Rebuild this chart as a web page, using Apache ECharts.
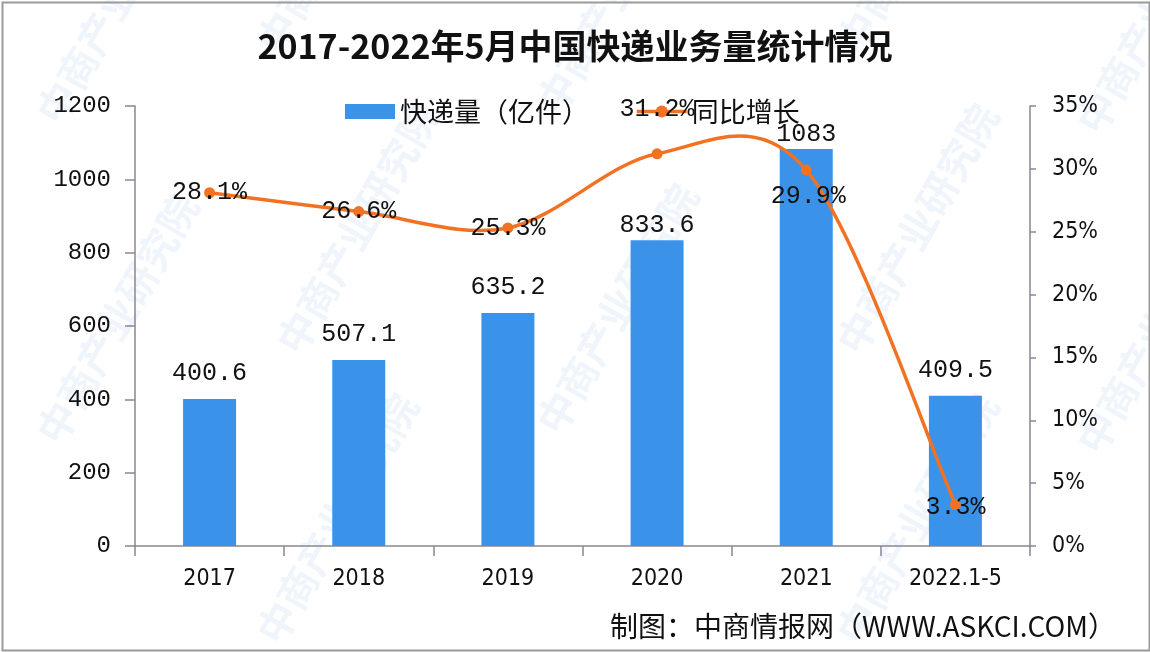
<!DOCTYPE html>
<html><head><meta charset="utf-8">
<script src="https://cdn.jsdelivr.net/npm/echarts@6/dist/echarts.min.js"></script>
<style>html,body{margin:0;padding:0;background:#fff}#c{width:1150px;height:652px}</style>
</head><body><div id="c"></div>
<script>
const categories = ['2017','2018','2019','2020','2021','2022.1-5'];
const volume = [400.6, 507.1, 635.2, 833.6, 1083, 409.5];
const growth = [28.1, 26.6, 25.3, 31.2, 29.9, 3.3];
const leftTicks = [0, 1200, 200];
const rightTicks = [0, 35, 5];

const ORANGE = '#f07222';
const chart = echarts.init(document.getElementById('c'));
const wm = [];
const wmPos = [[30,110],[30,430],[250,40],[270,340],[530,100],[530,420],[830,40],[830,340],[1070,120],[1070,440],[250,630],[830,630]];
wmPos.forEach(p => wm.push({type:'text', x:p[0], y:p[1], rotation:Math.PI/3, silent:true, z:-1,
  style:{text:'中商产业研究院', fill:'rgba(110,165,220,0.11)', font:'bold 40px "Noto Sans CJK SC"'}}));

const lineLabelPos = growth.map((v,i) => {
  if (i === 3) return {position:'top', distance:26};
  if (i === 4) return {position:'inside', offset:[2,26]};
  if (i === 5) return {position:'inside', offset:[0,3]};
  return {position:'inside'};
});
const barLabelDist = volume.map((v,i) => (i === 3 || i === 4) ? 2 : 13);

// Excel-like smoothed curve through the growth points, drawn via axis coords
function renderCurve(params, api) {
  const i = params.dataIndex;
  const n = growth.length;
  if (i >= n - 1) return null;
  const P = k => { const j = Math.max(0, Math.min(n - 1, k)); return api.coord([j, growth[j]]); };
  const p0 = P(i - 1), p1 = P(i), p2 = P(i + 1), p3 = P(i + 2);
  const c1 = [p1[0] + (p2[0] - p0[0]) / 6, p1[1] + (p2[1] - p0[1]) / 6];
  const c2 = [p2[0] - (p3[0] - p1[0]) / 6, p2[1] - (p3[1] - p1[1]) / 6];
  return {type:'bezierCurve', shape:{x1:p1[0], y1:p1[1], cpx1:c1[0], cpy1:c1[1], cpx2:c2[0], cpy2:c2[1], x2:p2[0], y2:p2[1]},
    style:{stroke:ORANGE, lineWidth:3.5, fill:null}};
}

chart.setOption({
  animation:false,
  title:{text:'2017-2022年5月中国快递业务量统计情况', left:'center', top:24,
    textStyle:{fontFamily:'"Noto Sans CJK SC"', fontWeight:'bold', fontSize:34, color:'#111'}},
  legend:{top:93, left:340, itemGap:46, itemWidth:50, itemHeight:15,
    textStyle:{fontFamily:'"Noto Sans CJK SC"', fontSize:27, color:'#111'},
    data:[{name:'快递量（亿件）', icon:'rect'},
          {name:'同比增长', lineStyle:{color:ORANGE, width:3.5, opacity:1}, itemStyle:{color:ORANGE}}]},
  grid:{left:135, right:120, top:106, bottom:106},
  xAxis:{type:'category', data:categories, boundaryGap:true,
    axisLine:{lineStyle:{color:'#8a8694', width:1.5}},
    axisTick:{show:true, length:10, lineStyle:{color:'#8a8694', width:1.5}},
    axisLabel:{color:'#111', fontSize:23, margin:22, fontFamily:'"Liberation Sans Narrow","DejaVu Sans Condensed",sans-serif'}},
  yAxis:[
    {type:'value', min:leftTicks[0], max:leftTicks[1], interval:leftTicks[2],
     axisLine:{show:true, lineStyle:{color:'#8a8694', width:1.5}},
     axisTick:{show:true, length:10, lineStyle:{color:'#8a8694', width:1.5}},
     splitLine:{show:false},
     axisLabel:{color:'#111', fontSize:24, margin:24, formatter:v => String(v), fontFamily:'"Liberation Mono",monospace'}},
    {type:'value', min:rightTicks[0], max:rightTicks[1], interval:rightTicks[2],
     axisLine:{show:true, lineStyle:{color:'#8a8694', width:1.5}},
     axisTick:{show:true, inside:false, length:6, lineStyle:{color:'#8a8694', width:1.5}},
     splitLine:{show:false},
     axisLabel:{color:'#111', fontSize:23, margin:22, formatter:'{value}%', fontFamily:'"Liberation Sans Narrow","DejaVu Sans Condensed",sans-serif'}}
  ],
  series:[
    {name:'快递量（亿件）', type:'bar', yAxisIndex:0, barWidth:53,
     data:volume.map((v,i)=>({value:v, label:{distance:barLabelDist[i]}})),
     itemStyle:{color:'#3a93e8'},
     label:{show:true, position:'top', color:'#111', fontSize:25, fontFamily:'"Liberation Mono",monospace'}},
    {name:'同比增长曲线', type:'custom', xAxisIndex:0, yAxisIndex:1, z:3, silent:true,
     data:growth.map((v,i)=>[i, v]), renderItem:renderCurve, encode:{x:0, y:1}},
    {name:'同比增长', type:'line', yAxisIndex:1, z:4,
     data:growth.map((v,i)=>({value:v, label:lineLabelPos[i]})),
     symbol:'circle', symbolSize:11,
     lineStyle:{color:ORANGE, width:3.5, opacity:0}, itemStyle:{color:ORANGE},
     label:{show:true, color:'#111', fontSize:25, formatter:'{c}%', fontFamily:'"Liberation Mono",monospace'}}
  ],
  graphic:wm.concat([
    {type:'text', right:34, bottom:12, style:{text:'制图：中商情报网（WWW.ASKCI.COM）', fill:'#111', font:'28px "Noto Sans CJK SC"'}},
    {type:'rect', left:0, top:0, shape:{x:1, y:0, width:1147, height:648}, style:{fill:'none', stroke:'#9a9a9a', lineWidth:2}, silent:true}
  ])
});
</script></body></html>
